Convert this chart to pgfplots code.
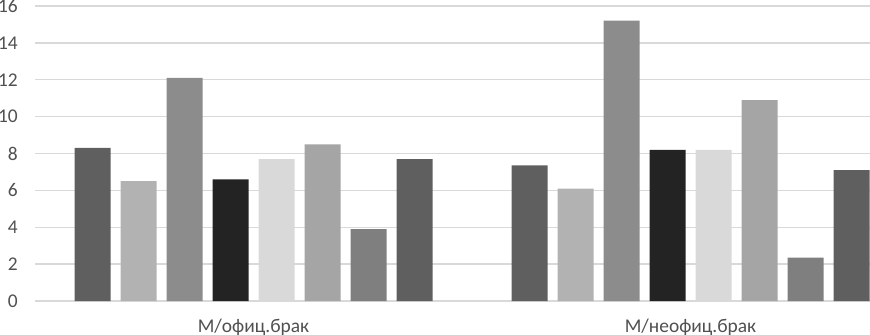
\documentclass[border=0pt]{standalone}
\usepackage{pgfplots}
\pgfplotsset{compat=1.18}
\usepackage{pgfplotstable}
\usepackage{fontspec}
\setmainfont{Carlito}
\definecolor{c1}{HTML}{5F5F5F}
\definecolor{c2}{HTML}{B2B2B2}
\definecolor{c3}{HTML}{8C8C8C}
\definecolor{c4}{HTML}{232323}
\definecolor{c5}{HTML}{D9D9D9}
\definecolor{c6}{HTML}{A5A5A5}
\definecolor{c7}{HTML}{7F7F7F}
\definecolor{c8}{HTML}{5F5F5F}
\definecolor{gridc}{HTML}{D9D9D9}
\definecolor{txt}{HTML}{505050}
\pgfplotstableread{
x s1 s2 s3 s4 s5 s6 s7 s8
0 8.3 6.5 12.1 6.6 7.7 8.5 3.9 7.7
1 7.35 6.1 15.2 8.2 8.2 10.9 2.35 7.1
}\data
\begin{document}
\begin{tikzpicture}
\path[use as bounding box, clip] (0,0) rectangle (870bp,335bp);
\begin{axis}[
  scale only axis,
  width=874bp, height=295bp,
  at={(35bp,34bp)}, anchor=south west,
  xmin=-0.5, xmax=1.5,
  ymin=0, ymax=16,
  ytick={0,2,...,16},
  xtick=data,
  xticklabels={М/офиц.брак, М/неофиц.брак},
  ybar=10bp, bar width=36bp,
  axis line style={draw=none},
  major tick length=0pt,
  ymajorgrids,
  grid style={draw=gridc, line width=1.3bp},
  /pgf/number format/assume math mode=true,
  tick label style={font=\fontsize{19.5}{22}\selectfont, text=txt},
  y tick label style={anchor=east, inner sep=0pt, xshift=-17bp},
  x tick label style={anchor=base, inner sep=0pt, yshift=-31bp},
  clip=false,
]
\addplot[fill=c1, draw=none] table[x=x, y=s1] {\data};
\addplot[fill=c2, draw=none] table[x=x, y=s2] {\data};
\addplot[fill=c3, draw=none] table[x=x, y=s3] {\data};
\addplot[fill=c4, draw=none] table[x=x, y=s4] {\data};
\addplot[fill=c5, draw=none] table[x=x, y=s5] {\data};
\addplot[fill=c6, draw=none] table[x=x, y=s6] {\data};
\addplot[fill=c7, draw=none] table[x=x, y=s7] {\data};
\addplot[fill=c8, draw=none] table[x=x, y=s8] {\data};
\end{axis}
\end{tikzpicture}
\end{document}
